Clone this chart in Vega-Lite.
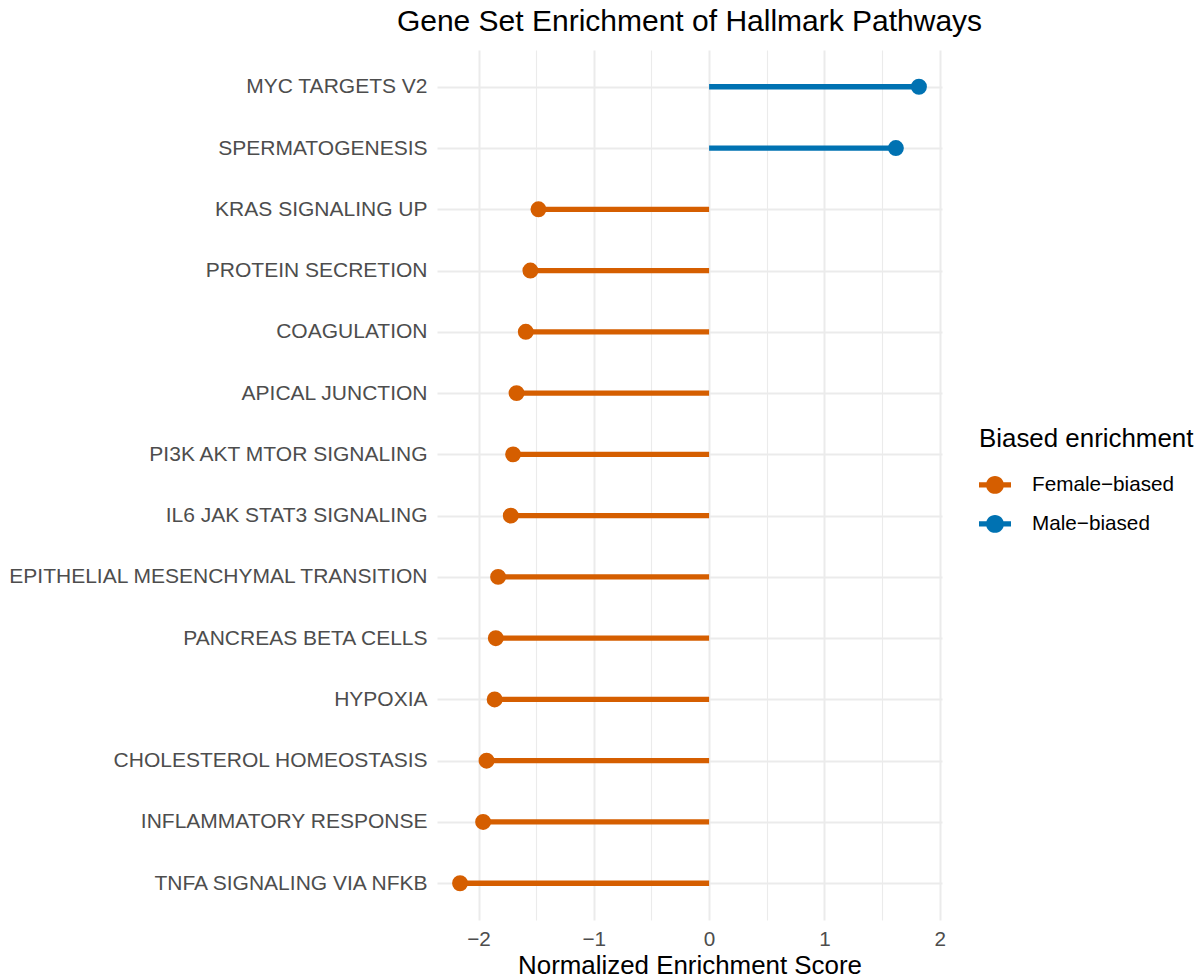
{
  "$schema": "https://vega.github.io/schema/vega-lite/v6.json",
  "width": 505,
  "height": 870,
  "autosize": {"type": "none"},
  "padding": {"left": 437, "top": 50, "right": 254, "bottom": 60},
  "background": "white",
  "config": {
    "view": {"stroke": null},
    "font": "Liberation Sans"
  },
  "title": {
    "text": "Gene Set Enrichment of Hallmark Pathways",
    "fontSize": 30,
    "font": "Liberation Sans",
    "fontWeight": "normal",
    "color": "#000000",
    "anchor": "middle",
    "offset": 13
  },
  "data": {
    "values": [
      {"pathway": "MYC TARGETS V2", "nes": 1.82, "direction": "Male-biased"},
      {"pathway": "SPERMATOGENESIS", "nes": 1.62, "direction": "Male-biased"},
      {"pathway": "KRAS SIGNALING UP", "nes": -1.48, "direction": "Female-biased"},
      {"pathway": "PROTEIN SECRETION", "nes": -1.55, "direction": "Female-biased"},
      {"pathway": "COAGULATION", "nes": -1.59, "direction": "Female-biased"},
      {"pathway": "APICAL JUNCTION", "nes": -1.67, "direction": "Female-biased"},
      {"pathway": "PI3K AKT MTOR SIGNALING", "nes": -1.70, "direction": "Female-biased"},
      {"pathway": "IL6 JAK STAT3 SIGNALING", "nes": -1.72, "direction": "Female-biased"},
      {"pathway": "EPITHELIAL MESENCHYMAL TRANSITION", "nes": -1.83, "direction": "Female-biased"},
      {"pathway": "PANCREAS BETA CELLS", "nes": -1.85, "direction": "Female-biased"},
      {"pathway": "HYPOXIA", "nes": -1.86, "direction": "Female-biased"},
      {"pathway": "CHOLESTEROL HOMEOSTASIS", "nes": -1.93, "direction": "Female-biased"},
      {"pathway": "INFLAMMATORY RESPONSE", "nes": -1.96, "direction": "Female-biased"},
      {"pathway": "TNFA SIGNALING VIA NFKB", "nes": -2.16, "direction": "Female-biased"}
    ]
  },
  "encoding": {
    "y": {
      "field": "pathway",
      "type": "nominal",
      "sort": {"field": "nes", "op": "min", "order": "descending"},
      "scale": {"type": "point", "padding": 0.6},
      "axis": {
        "title": null,
        "labelFont": "Liberation Sans",
        "labelFontSize": 21,
        "labelColor": "#4D4D4D",
        "labelPadding": 10,
        "labelLimit": 0,
        "ticks": false,
        "domain": false,
        "grid": true,
        "gridColor": "#EBEBEB",
        "gridWidth": 2
      }
    },
    "x": {
      "field": "nes",
      "type": "quantitative",
      "scale": {"domain": [-2.36, 2.02], "nice": false, "zero": false},
      "axis": {
        "title": "Normalized Enrichment Score",
        "titleFont": "Liberation Sans",
        "titleFontSize": 25.9,
        "titleFontWeight": "normal",
        "titleColor": "#000000",
        "titlePadding": 5,
        "values": [-2, -1.5, -1, -0.5, 0, 0.5, 1, 1.5, 2],
        "labelExpr": "datum.value % 1 === 0 ? format(datum.value, 'd') : ''",
        "labelFont": "Liberation Sans",
        "labelFontSize": 20.7,
        "labelColor": "#4D4D4D",
        "labelPadding": 9,
        "ticks": false,
        "domain": false,
        "grid": true,
        "gridColor": "#EBEBEB",
        "gridWidth": {"condition": {"test": "datum.value % 1 === 0", "value": 2}, "value": 1.1}
      }
    },
    "color": {
      "field": "direction",
      "type": "nominal",
      "scale": {"domain": ["Female-biased", "Male-biased"], "range": ["#D55E00", "#0072B2"]},
      "legend": {
        "title": "Biased enrichment",
        "orient": "none",
        "legendX": 542,
        "legendY": 377,
        "titleFont": "Liberation Sans",
        "titleFontSize": 25.9,
        "titleFontWeight": "normal",
        "titleColor": "#000000",
        "titleLimit": 0,
        "titlePadding": 16,
        "labelFont": "Liberation Sans",
        "labelFontSize": 20.7,
        "labelColor": "#000000",
        "labelLimit": 0,
        "labelOffset": 21,
        "labelExpr": "replace(datum.label, '-', '\u2212')",
        "rowPadding": 13,
        "symbolType": "M-1,-0.16L1,-0.16L1,0.16L-1,0.16Z M-0.56,0 A0.56,0.56 0 1 1 0.56,0 A0.56,0.56 0 1 1 -0.56,0 Z",
        "symbolSize": 1024,
        "symbolStrokeWidth": 0,
        "symbolOpacity": 1
      }
    }
  },
  "layer": [
    {
      "mark": {"type": "rule", "strokeWidth": 5.3},
      "encoding": {"x2": {"datum": 0}}
    },
    {
      "mark": {"type": "point", "filled": true, "size": 254, "opacity": 1}
    }
  ]
}
